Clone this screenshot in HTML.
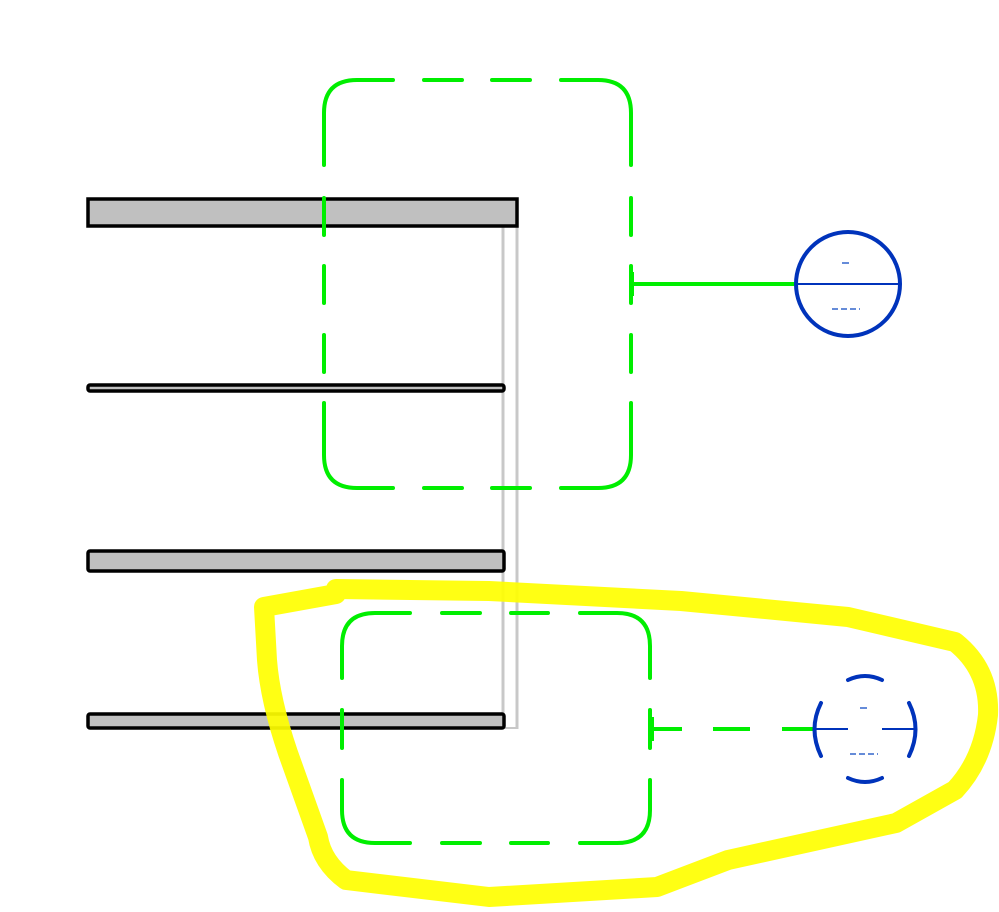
<!DOCTYPE html>
<html><head><meta charset="utf-8"><style>html,body{margin:0;padding:0;background:#fff}svg{display:block}</style></head>
<body>
<svg width="999" height="912" viewBox="0 0 999 912" xmlns="http://www.w3.org/2000/svg">
<line x1="503" y1="226" x2="503" y2="729" stroke="#c8c8c8" stroke-width="3"/>
<line x1="517" y1="226" x2="517" y2="729" stroke="#c8c8c8" stroke-width="3"/>
<line x1="503" y1="728" x2="517" y2="728" stroke="#c8c8c8" stroke-width="2"/>
<rect x="88" y="199" width="429" height="27" fill="#c0c0c0" stroke="#000" stroke-width="3.5"/>
<rect x="88" y="385" width="416" height="6" rx="2" fill="#c0c0c0" stroke="#000" stroke-width="3.5"/>
<rect x="88" y="551" width="416" height="20" rx="2" fill="#c0c0c0" stroke="#000" stroke-width="3.5"/>
<rect x="88" y="714" width="416" height="14" rx="2" fill="#c0c0c0" stroke="#000" stroke-width="3.5"/>
<g fill="none" stroke="#00ee00" stroke-width="4" stroke-linecap="round">
<!-- box1 -->
<path d="M324,165 L324,113 Q324,80 357,80 L393,80"/>
<path d="M424,80 H462 M492,80 H530 M424,488 H462 M492,488 H530"/>
<path d="M561,80 L598,80 Q631,80 631,113 L631,165"/>
<path d="M631,198 V235 M631,266 V303 M631,335 V372 M324,198 V235 M324,266 V303 M324,335 V372"/>
<path d="M631,403 L631,455 Q631,488 598,488 L561,488"/>
<path d="M393,488 L357,488 Q324,488 324,455 L324,403"/>
<!-- box2 -->
<path d="M342,678 L342,646 Q342,613 375,613 L410,613"/>
<path d="M442,613 H480 M511,613 H548 M442,843 H480 M511,843 H548"/>
<path d="M580,613 L617,613 Q650,613 650,646 L650,678"/>
<path d="M650,710 V748 M342,710 V748"/>
<path d="M650,780 L650,810 Q650,843 617,843 L580,843"/>
<path d="M410,843 L375,843 Q342,843 342,810 L342,780"/>
</g>
<line x1="632" y1="284" x2="796" y2="284" stroke="#00ee00" stroke-width="4"/>
<line x1="632" y1="272" x2="632" y2="296" stroke="#00ee00" stroke-width="4"/>
<circle cx="848" cy="284" r="52" fill="none" stroke="#0033bb" stroke-width="4"/>
<line x1="796" y1="284" x2="900" y2="284" stroke="#0033bb" stroke-width="2"/>
<line x1="842" y1="263" x2="849" y2="263" stroke="#3366cc" stroke-width="1.5"/>
<line x1="832" y1="309" x2="860" y2="309" stroke="#3366cc" stroke-width="1.5" stroke-dasharray="6,3"/>
<g stroke="#00ee00" stroke-width="4">
<line x1="652" y1="729" x2="682" y2="729"/>
<line x1="713" y1="729" x2="750" y2="729"/>
<line x1="782" y1="729" x2="815" y2="729"/>
<line x1="652" y1="717" x2="652" y2="741"/>
</g>
<g fill="none" stroke="#0033bb" stroke-width="4" stroke-linecap="round">
<path d="M848,680 Q865,672 882,680"/>
<path d="M848,778 Q865,786 882,778"/>
<path d="M821,703 Q808,729 821,756"/>
<path d="M909,703 Q922,729 909,756"/>
</g>
<line x1="815" y1="729" x2="848" y2="729" stroke="#0033bb" stroke-width="2"/>
<line x1="882" y1="729" x2="917" y2="729" stroke="#0033bb" stroke-width="2"/>
<line x1="860" y1="708" x2="867" y2="708" stroke="#3366cc" stroke-width="1.5"/>
<line x1="850" y1="754" x2="878" y2="754" stroke="#3366cc" stroke-width="1.5" stroke-dasharray="6,3"/>
<path d="M264,607 L336,594 L336,589 L489,591 L681,601 L848,617 L955,642 Q990,670 988,715 Q983,760 955,790 L896,823 L728,860 L657,887 L489,897 L346,880 Q322,862 318,837 L288,753 Q270,700 267,660 Z" fill="none" stroke="#ffff00" stroke-width="20" stroke-linejoin="round" opacity="0.92"/>
</svg>
</body></html>
